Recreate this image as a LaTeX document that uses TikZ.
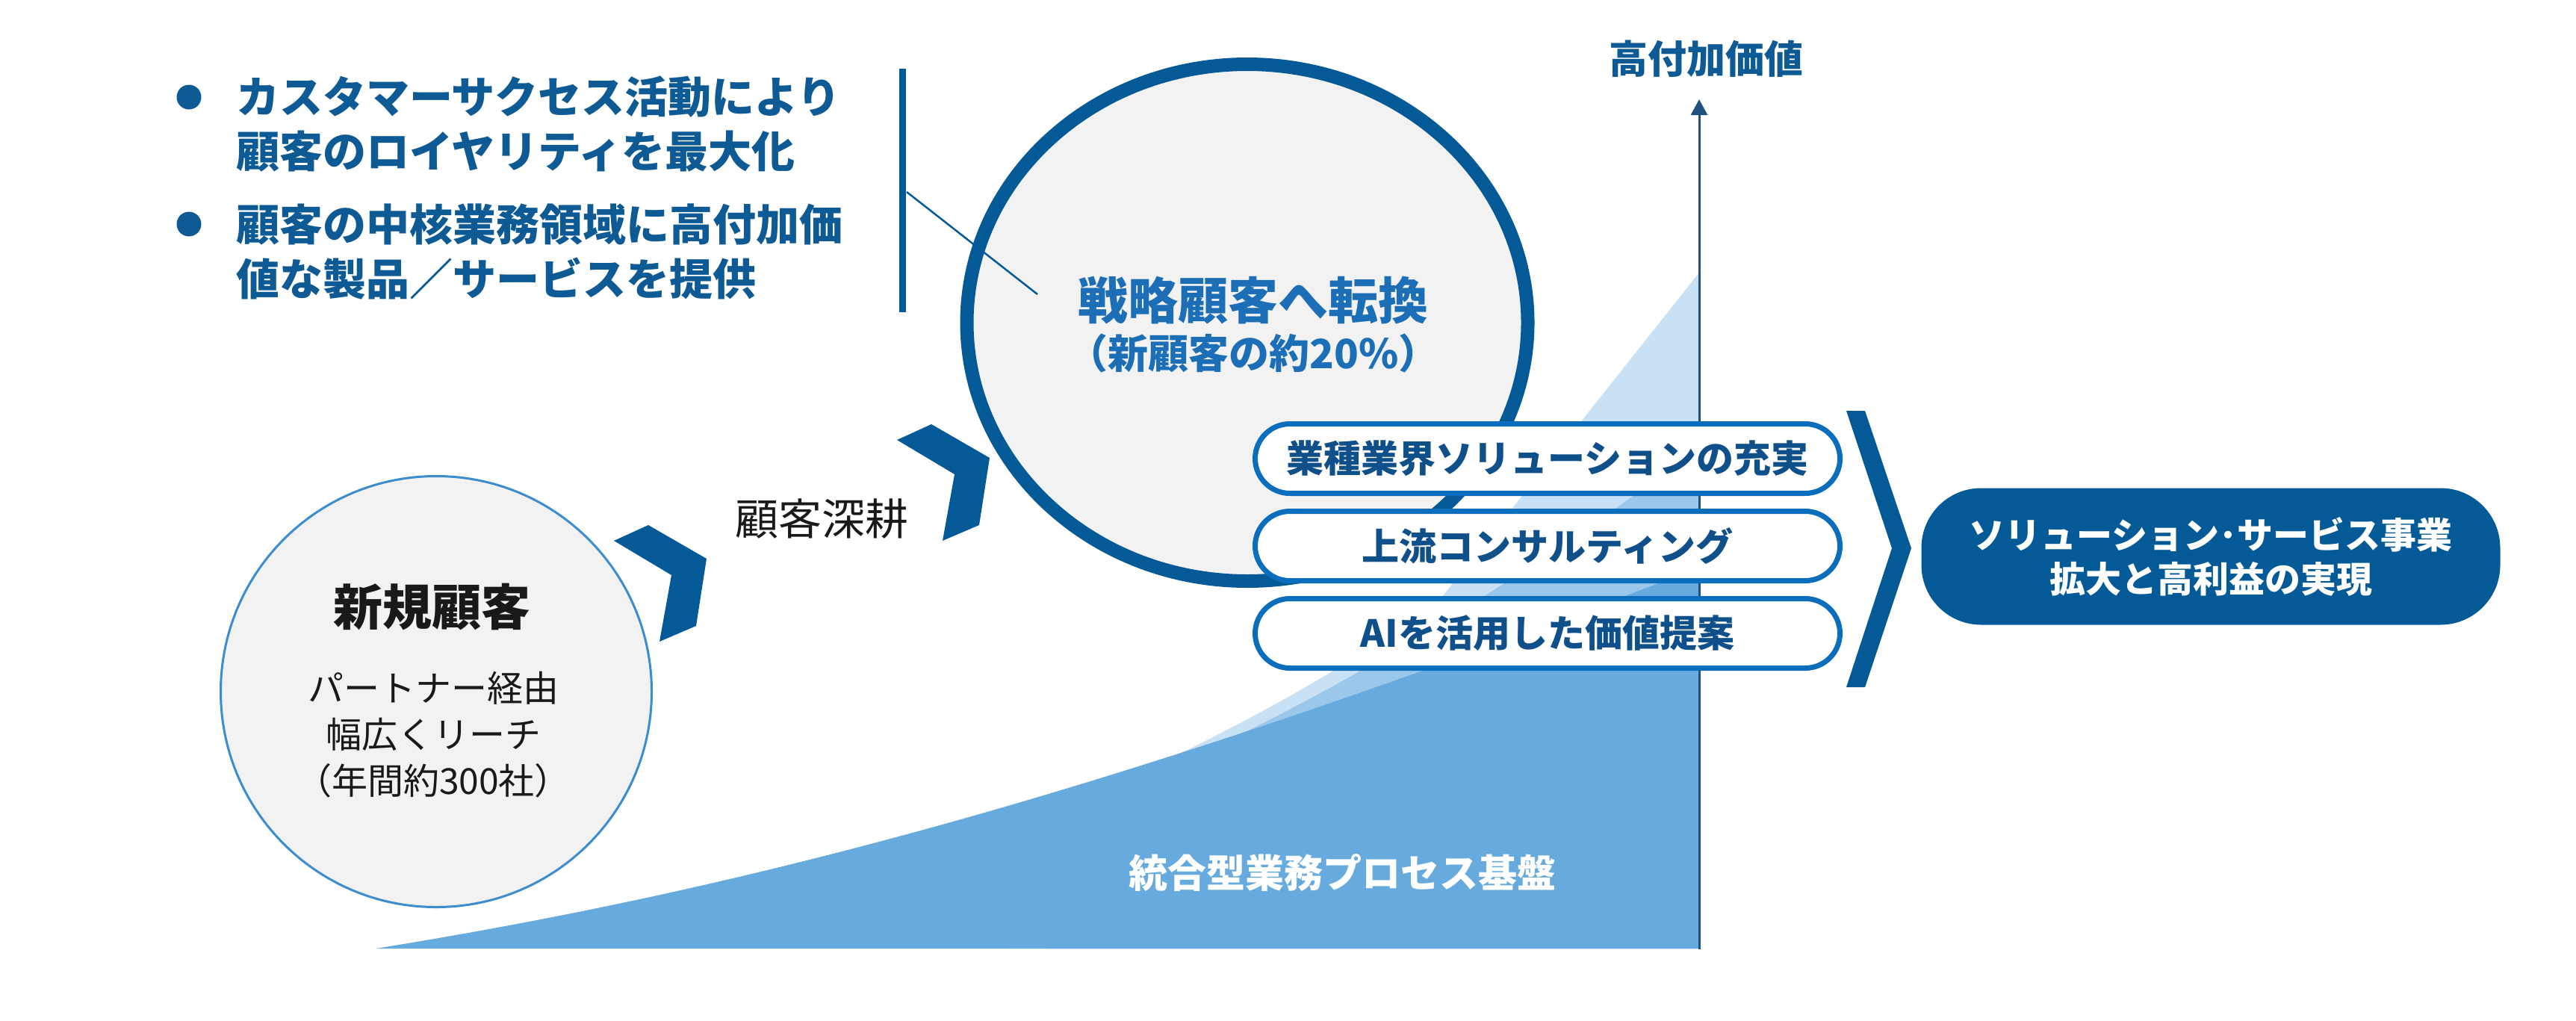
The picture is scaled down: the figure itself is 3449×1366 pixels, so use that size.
\documentclass[tikz,border=0pt]{standalone}
\usepackage{fontspec}
\setmainfont{Noto Sans CJK JP}
\usetikzlibrary{shapes.geometric,shapes.misc,arrows.meta}
\definecolor{dkblue}{HTML}{045A97}
\definecolor{txtblue}{HTML}{0E5A94}
\definecolor{titleblue}{HTML}{1C6FB6}
\definecolor{pillborder}{HTML}{0A6EBD}
\definecolor{pilltext}{HTML}{0F4F8A}
\definecolor{areadark}{HTML}{66AADE}
\definecolor{areamed}{HTML}{9BC7EA}
\definecolor{arealight}{HTML}{C8E1F4}
\definecolor{cfill}{HTML}{F2F2F2}
\definecolor{thinring}{HTML}{3C8DD0}
\definecolor{axiscol}{HTML}{1F5080}
\newcommand\fsz[2]{\fontsize{#1}{#2}\selectfont}
\tikzset{
  txt/.style={inner sep=0pt, outer sep=0pt},
  bullettxt/.style={txt, anchor=west, text=txtblue, font=\fsz{58}{70}\bfseries},
  pill/.style={rounded rectangle, draw=pillborder, line width=7pt, fill=white,
    minimum width=783pt, minimum height=93pt, inner sep=0pt,
    text=pilltext, font=\fsz{50}{60}\bfseries},
  chev/.pic={\fill[dkblue] (0,0) -- (46,-21) -- (124,24) -- (110,114) -- (61,135) -- (77,46) -- cycle;}
}
\begin{document}
\begin{tikzpicture}[x=1pt,y=-1pt]
\useasboundingbox (0,0) rectangle (3449,1366);

% rising area
\fill[arealight] (1350,1110) .. controls (1600,1010) and (1800,900) .. (1930,800) -- (2275,365) -- (2275,1270) -- (1350,1270) -- cycle;
\fill[areamed] (1400,1090) .. controls (1650,1010) and (1950,840) .. (2275,600) -- (2275,1270) -- (1400,1270) -- cycle;
\fill[areadark] (503,1270) .. controls (1000,1190) and (1500,1060) .. (2275,760) -- (2275,1270) -- cycle;
\node[txt, text=white, font=\fsz{52}{62}\bfseries] (base) at (1797,1168) {統合型業務プロセス基盤};

% vertical axis
\coordinate (axb) at (2275,1271);
\coordinate (axt) at (2275,133);
\draw[axiscol, line width=3pt, -{Triangle[length=21pt,width=22pt]}] (axb) -- (axt);
\node[txt, text=txtblue, font=\fsz{52}{62}\bfseries] (hv) at (2284,79) {高付加価値};

% bullets
\fill[txtblue] (253,130) circle[radius=16.5];
\fill[txtblue] (253,300) circle[radius=16.5];
\node[bullettxt] (b1a) at (316,130) {カスタマーサクセス活動により};
\node[bullettxt] (b1b) at (316,203) {顧客のロイヤリティを最大化};
\node[bullettxt] (b2a) at (316,300) {顧客の中核業務領域に高付加価};
\node[bullettxt] (b2b) at (316,373) {値な製品／サービスを提供};

% bar
\coordinate (bartop) at (1208,92);
\coordinate (barbot) at (1208,418);
\draw[dkblue, line width=9pt] (bartop) -- (barbot);

% new customers circle
\node[circle, draw=thinring, line width=3pt, fill=cfill, minimum size=577pt, inner sep=0pt] (newc) at (584,926) {};
\node[txt, text=black!90, font=\fsz{66}{78}\bfseries] (newt) at (578,813) {新規顧客};
\node[txt, align=center, text=black!90, font=\fsz{48}{62}] (newd) at (580,984) {パートナー経由\\幅広くリーチ\\（年間約300社）};

% chevrons
\pic at (822,724) {chev};
\pic at (1201,589) {chev};
\node[txt, text=black!90, font=\fsz{58}{70}] (deep) at (1100,695) {顧客深耕};

% strategic customers circle
\node[ellipse, draw=dkblue, line width=18pt, fill=cfill, minimum width=751pt, minimum height=692pt, inner sep=0pt] (strat) at (1670,432) {};
\node[txt, text=titleblue, font=\fsz{67}{80}\bfseries] (stratt) at (1678,402) {戦略顧客へ転換};
\node[txt, text=titleblue, font=\fsz{54}{64}\bfseries] (strats) at (1678,473) {（新顧客の約20\%）};

% callout line
\coordinate (callA) at (1214,257);
\coordinate (callB) at (1389,394);
\draw[dkblue, line width=2.5pt] (callA) -- (callB);

% pills
\node[pill] (p1) at (2072,614) {業種業界ソリューションの充実};
\node[pill] (p2) at (2072,731) {上流コンサルティング};
\node[pill] (p3) at (2072,848) {AIを活用した価値提案};

% bracket
\fill[dkblue] (2472,550) -- (2497,550) -- (2559,734) -- (2497,920) -- (2472,920) -- (2533,734) -- cycle;

% result box
\node[rectangle, rounded corners=80pt, fill=dkblue, minimum width=775pt, minimum height=183pt, inner sep=0pt,
  align=center, text=white, font=\fsz{48}{59}\bfseries] (res) at (2960,745) {ソリューション･サービス事業\\拡大と高利益の実現};
\end{tikzpicture}
\end{document}
